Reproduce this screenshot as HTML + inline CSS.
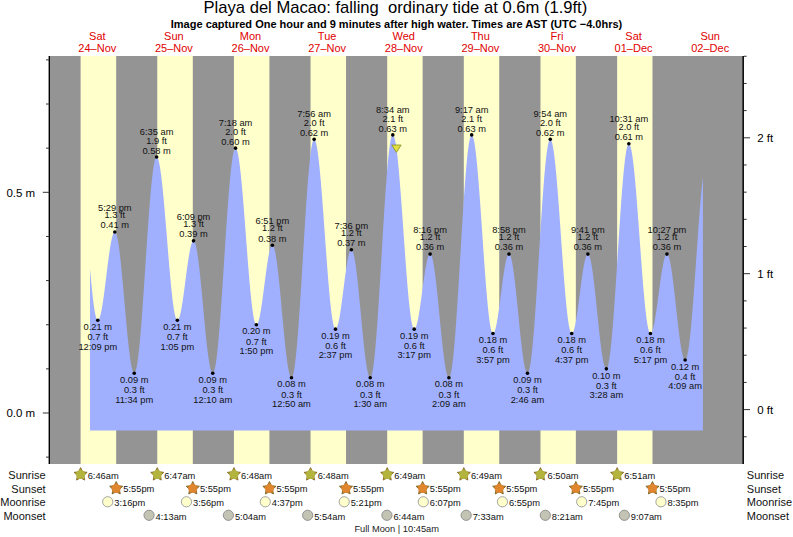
<!DOCTYPE html>
<html><head><meta charset="utf-8"><style>
html,body{margin:0;padding:0;background:#fff;}
svg{display:block;}
text{font-family:"Liberation Sans",Arial,sans-serif;fill:#111;}
.title{font-size:16.6px;text-anchor:middle;fill:#000;}
.sub{font-size:11px;font-weight:bold;text-anchor:middle;fill:#000;}
.day{font-size:11px;text-anchor:middle;fill:#e00000;}
.ax{font-size:11.5px;fill:#000;}
.lab{font-size:9.3px;text-anchor:middle;fill:#111;}
.row{font-size:11px;fill:#111;}
.ev{font-size:9.3px;fill:#111;}
.fm{font-size:9.3px;text-anchor:middle;fill:#222;}
</style></head><body>
<svg width="793" height="537" viewBox="0 0 793 537">
<rect width="793" height="537" fill="#fff"/>
<rect x="50" y="56" width="692" height="408" fill="#949494"/>
<rect x="80.60" y="56" width="35.59" height="408" fill="#ffffcc"/>
<rect x="157.26" y="56" width="35.54" height="408" fill="#ffffcc"/>
<rect x="233.93" y="56" width="35.49" height="408" fill="#ffffcc"/>
<rect x="310.54" y="56" width="35.49" height="408" fill="#ffffcc"/>
<rect x="387.20" y="56" width="35.43" height="408" fill="#ffffcc"/>
<rect x="463.81" y="56" width="35.43" height="408" fill="#ffffcc"/>
<rect x="540.47" y="56" width="35.38" height="408" fill="#ffffcc"/>
<rect x="617.14" y="56" width="35.33" height="408" fill="#ffffcc"/>
<path d="M90.02,430.5 L90.02,268.17 L90.53,274.07 L91.04,279.76 L91.55,285.19 L92.06,290.33 L92.57,295.16 L93.08,299.63 L93.59,303.72 L94.10,307.41 L94.61,310.67 L95.12,313.49 L95.63,315.83 L96.15,317.69 L96.66,319.07 L97.17,319.93 L97.68,320.29 L98.19,320.18 L98.70,319.68 L99.21,318.79 L99.72,317.52 L100.23,315.88 L100.74,313.89 L101.25,311.57 L101.76,308.93 L102.27,306.00 L102.78,302.81 L103.30,299.38 L103.81,295.74 L104.32,291.93 L104.83,287.98 L105.34,283.93 L105.85,279.80 L106.36,275.65 L106.87,271.49 L107.38,267.38 L107.89,263.35 L108.40,259.43 L108.91,255.66 L109.42,252.08 L109.94,248.70 L110.45,245.57 L110.96,242.71 L111.47,240.15 L111.98,237.91 L112.49,236.01 L113.00,234.46 L113.51,233.29 L114.02,232.49 L114.53,232.08 L115.04,232.08 L115.55,232.54 L116.06,233.48 L116.57,234.89 L117.09,236.76 L117.60,239.09 L118.11,241.85 L118.62,245.02 L119.13,248.58 L119.64,252.52 L120.15,256.79 L120.66,261.38 L121.17,266.26 L121.68,271.38 L122.19,276.71 L122.70,282.22 L123.21,287.87 L123.72,293.62 L124.24,299.43 L124.75,305.26 L125.26,311.08 L125.77,316.84 L126.28,322.50 L126.79,328.03 L127.30,333.38 L127.81,338.52 L128.32,343.42 L128.83,348.04 L129.34,352.35 L129.85,356.32 L130.36,359.93 L130.88,363.14 L131.39,365.94 L131.90,368.31 L132.41,370.24 L132.92,371.70 L133.43,372.69 L133.94,373.20 L134.45,373.22 L134.96,372.70 L135.47,371.63 L135.98,370.01 L136.49,367.86 L137.00,365.17 L137.51,361.98 L138.03,358.28 L138.54,354.11 L139.05,349.49 L139.56,344.43 L140.07,338.96 L140.58,333.11 L141.09,326.92 L141.60,320.41 L142.11,313.61 L142.62,306.57 L143.13,299.32 L143.64,291.88 L144.15,284.32 L144.66,276.65 L145.18,268.92 L145.69,261.18 L146.20,253.45 L146.71,245.79 L147.22,238.22 L147.73,230.79 L148.24,223.54 L148.75,216.50 L149.26,209.71 L149.77,203.21 L150.28,197.02 L150.79,191.18 L151.30,185.73 L151.82,180.67 L152.33,176.06 L152.84,171.90 L153.35,168.21 L153.86,165.03 L154.37,162.36 L154.88,160.21 L155.39,158.60 L155.90,157.54 L156.41,157.04 L156.92,157.07 L157.43,157.60 L157.94,158.61 L158.45,160.10 L158.97,162.06 L159.48,164.48 L159.99,167.34 L160.50,170.63 L161.01,174.33 L161.52,178.40 L162.03,182.84 L162.54,187.62 L163.05,192.69 L163.56,198.05 L164.07,203.64 L164.58,209.44 L165.09,215.42 L165.60,221.54 L166.12,227.76 L166.63,234.04 L167.14,240.36 L167.65,246.66 L168.16,252.91 L168.67,259.08 L169.18,265.13 L169.69,271.02 L170.20,276.71 L170.71,282.18 L171.22,287.39 L171.73,292.30 L172.24,296.90 L172.76,301.15 L173.27,305.02 L173.78,308.50 L174.29,311.55 L174.80,314.18 L175.31,316.35 L175.82,318.06 L176.33,319.29 L176.84,320.04 L177.35,320.31 L177.86,320.13 L178.37,319.56 L178.88,318.61 L179.39,317.28 L179.91,315.60 L180.42,313.57 L180.93,311.21 L181.44,308.55 L181.95,305.62 L182.46,302.45 L182.97,299.05 L183.48,295.48 L183.99,291.76 L184.50,287.93 L185.01,284.02 L185.52,280.09 L186.03,276.16 L186.55,272.27 L187.06,268.46 L187.57,264.77 L188.08,261.24 L188.59,257.90 L189.10,254.78 L189.61,251.91 L190.12,249.33 L190.63,247.06 L191.14,245.11 L191.65,243.51 L192.16,242.28 L192.67,241.42 L193.18,240.95 L193.70,240.87 L194.21,241.24 L194.72,242.06 L195.23,243.34 L195.74,245.06 L196.25,247.22 L196.76,249.79 L197.27,252.76 L197.78,256.11 L198.29,259.82 L198.80,263.86 L199.31,268.19 L199.82,272.80 L200.33,277.65 L200.85,282.70 L201.36,287.92 L201.87,293.28 L202.38,298.73 L202.89,304.24 L203.40,309.77 L203.91,315.28 L204.42,320.74 L204.93,326.09 L205.44,331.32 L205.95,336.38 L206.46,341.23 L206.97,345.84 L207.49,350.18 L208.00,354.23 L208.51,357.94 L209.02,361.30 L209.53,364.28 L210.04,366.86 L210.55,369.02 L211.06,370.75 L211.57,372.04 L212.08,372.88 L212.59,373.25 L213.10,373.14 L213.61,372.48 L214.12,371.26 L214.64,369.50 L215.15,367.19 L215.66,364.35 L216.17,361.01 L216.68,357.16 L217.19,352.83 L217.70,348.05 L218.21,342.84 L218.72,337.21 L219.23,331.21 L219.74,324.86 L220.25,318.18 L220.76,311.23 L221.27,304.02 L221.79,296.60 L222.30,289.00 L222.81,281.26 L223.32,273.41 L223.83,265.51 L224.34,257.58 L224.85,249.66 L225.36,241.80 L225.87,234.04 L226.38,226.41 L226.89,218.94 L227.40,211.69 L227.91,204.68 L228.43,197.94 L228.94,191.52 L229.45,185.44 L229.96,179.74 L230.47,174.43 L230.98,169.56 L231.49,165.14 L232.00,161.19 L232.51,157.73 L233.02,154.79 L233.53,152.37 L234.04,150.50 L234.55,149.16 L235.06,148.38 L235.58,148.16 L236.09,148.48 L236.60,149.31 L237.11,150.67 L237.62,152.52 L238.13,154.88 L238.64,157.72 L239.15,161.02 L239.66,164.77 L240.17,168.95 L240.68,173.52 L241.19,178.46 L241.70,183.75 L242.21,189.35 L242.73,195.23 L243.24,201.35 L243.75,207.68 L244.26,214.18 L244.77,220.82 L245.28,227.54 L245.79,234.32 L246.30,241.11 L246.81,247.87 L247.32,254.56 L247.83,261.15 L248.34,267.59 L248.85,273.85 L249.37,279.88 L249.88,285.66 L250.39,291.15 L250.90,296.31 L251.41,301.12 L251.92,305.55 L252.43,309.57 L252.94,313.15 L253.45,316.28 L253.96,318.94 L254.47,321.11 L254.98,322.78 L255.49,323.94 L256.00,324.58 L256.52,324.71 L257.03,324.40 L257.54,323.70 L258.05,322.61 L258.56,321.14 L259.07,319.31 L259.58,317.13 L260.09,314.64 L260.60,311.84 L261.11,308.78 L261.62,305.48 L262.13,301.97 L262.64,298.29 L263.16,294.48 L263.67,290.57 L264.18,286.61 L264.69,282.63 L265.20,278.68 L265.71,274.79 L266.22,271.00 L266.73,267.35 L267.24,263.88 L267.75,260.62 L268.26,257.60 L268.77,254.86 L269.28,252.42 L269.79,250.31 L270.31,248.55 L270.82,247.15 L271.33,246.13 L271.84,245.50 L272.35,245.27 L272.86,245.46 L273.37,246.12 L273.88,247.25 L274.39,248.82 L274.90,250.84 L275.41,253.28 L275.92,256.13 L276.43,259.38 L276.94,262.99 L277.46,266.95 L277.97,271.21 L278.48,275.77 L278.99,280.57 L279.50,285.59 L280.01,290.80 L280.52,296.15 L281.03,301.61 L281.54,307.14 L282.05,312.69 L282.56,318.25 L283.07,323.75 L283.58,329.16 L284.10,334.46 L284.61,339.58 L285.12,344.52 L285.63,349.21 L286.14,353.65 L286.65,357.78 L287.16,361.59 L287.67,365.04 L288.18,368.12 L288.69,370.80 L289.20,373.06 L289.71,374.88 L290.22,376.26 L290.73,377.18 L291.25,377.63 L291.76,377.61 L292.27,377.00 L292.78,375.80 L293.29,374.00 L293.80,371.64 L294.31,368.70 L294.82,365.21 L295.33,361.19 L295.84,356.65 L296.35,351.62 L296.86,346.13 L297.37,340.20 L297.88,333.85 L298.40,327.13 L298.91,320.07 L299.42,312.69 L299.93,305.05 L300.44,297.17 L300.95,289.10 L301.46,280.88 L301.97,272.54 L302.48,264.13 L302.99,255.70 L303.50,247.28 L304.01,238.91 L304.52,230.65 L305.04,222.52 L305.55,214.57 L306.06,206.85 L306.57,199.38 L307.08,192.21 L307.59,185.37 L308.10,178.90 L308.61,172.82 L309.12,167.18 L309.63,161.99 L310.14,157.29 L310.65,153.09 L311.16,149.42 L311.67,146.30 L312.19,143.74 L312.70,141.76 L313.21,140.36 L313.72,139.55 L314.23,139.34 L314.74,139.68 L315.25,140.57 L315.76,141.98 L316.27,143.91 L316.78,146.35 L317.29,149.29 L317.80,152.71 L318.31,156.59 L318.82,160.91 L319.34,165.65 L319.85,170.77 L320.36,176.25 L320.87,182.06 L321.38,188.16 L321.89,194.53 L322.40,201.12 L322.91,207.89 L323.42,214.82 L323.93,221.85 L324.44,228.96 L324.95,236.09 L325.46,243.22 L325.98,250.29 L326.49,257.27 L327.00,264.12 L327.51,270.81 L328.02,277.28 L328.53,283.52 L329.04,289.47 L329.55,295.11 L330.06,300.41 L330.57,305.34 L331.08,309.86 L331.59,313.95 L332.10,317.60 L332.61,320.77 L333.13,323.45 L333.64,325.63 L334.15,327.29 L334.66,328.43 L335.17,329.03 L335.68,329.11 L336.19,328.75 L336.70,328.00 L337.21,326.85 L337.72,325.33 L338.23,323.44 L338.74,321.20 L339.25,318.64 L339.77,315.78 L340.28,312.66 L340.79,309.30 L341.30,305.73 L341.81,302.00 L342.32,298.14 L342.83,294.20 L343.34,290.20 L343.85,286.20 L344.36,282.23 L344.87,278.33 L345.38,274.54 L345.89,270.91 L346.40,267.46 L346.92,264.24 L347.43,261.27 L347.94,258.59 L348.45,256.22 L348.96,254.19 L349.47,252.52 L349.98,251.22 L350.49,250.31 L351.00,249.80 L351.51,249.69 L352.02,250.03 L352.53,250.83 L353.04,252.09 L353.55,253.79 L354.07,255.93 L354.58,258.49 L355.09,261.44 L355.60,264.78 L356.11,268.47 L356.62,272.49 L357.13,276.80 L357.64,281.39 L358.15,286.21 L358.66,291.23 L359.17,296.41 L359.68,301.71 L360.19,307.11 L360.71,312.55 L361.22,318.00 L361.73,323.42 L362.24,328.76 L362.75,334.00 L363.26,339.09 L363.77,344.00 L364.28,348.69 L364.79,353.12 L365.30,357.27 L365.81,361.10 L366.32,364.58 L366.83,367.70 L367.34,370.43 L367.86,372.74 L368.37,374.63 L368.88,376.07 L369.39,377.06 L369.90,377.59 L370.41,377.65 L370.92,377.13 L371.43,375.99 L371.94,374.25 L372.45,371.91 L372.96,368.99 L373.47,365.50 L373.98,361.46 L374.49,356.88 L375.01,351.80 L375.52,346.23 L376.03,340.21 L376.54,333.76 L377.05,326.92 L377.56,319.73 L378.07,312.21 L378.58,304.41 L379.09,296.37 L379.60,288.12 L380.11,279.72 L380.62,271.20 L381.13,262.60 L381.65,253.96 L382.16,245.35 L382.67,236.78 L383.18,228.32 L383.69,219.99 L384.20,211.85 L384.71,203.94 L385.22,196.29 L385.73,188.94 L386.24,181.93 L386.75,175.30 L387.26,169.08 L387.77,163.30 L388.28,157.99 L388.80,153.18 L389.31,148.89 L389.82,145.15 L390.33,141.96 L390.84,139.35 L391.35,137.34 L391.86,135.93 L392.37,135.12 L392.88,134.93 L393.39,135.30 L393.90,136.22 L394.41,137.67 L394.92,139.65 L395.43,142.14 L395.95,145.14 L396.46,148.63 L396.97,152.58 L397.48,156.98 L397.99,161.80 L398.50,167.01 L399.01,172.59 L399.52,178.49 L400.03,184.70 L400.54,191.17 L401.05,197.87 L401.56,204.77 L402.07,211.81 L402.59,218.97 L403.10,226.20 L403.61,233.46 L404.12,240.72 L404.63,247.93 L405.14,255.04 L405.65,262.03 L406.16,268.86 L406.67,275.47 L407.18,281.84 L407.69,287.93 L408.20,293.71 L408.71,299.15 L409.22,304.21 L409.74,308.86 L410.25,313.09 L410.76,316.86 L411.27,320.15 L411.78,322.96 L412.29,325.25 L412.80,327.02 L413.31,328.26 L413.82,328.96 L414.33,329.13 L414.84,328.86 L415.35,328.21 L415.86,327.19 L416.38,325.80 L416.89,324.07 L417.40,322.01 L417.91,319.65 L418.42,316.99 L418.93,314.08 L419.44,310.94 L419.95,307.60 L420.46,304.11 L420.97,300.48 L421.48,296.76 L421.99,292.99 L422.50,289.21 L423.01,285.45 L423.53,281.76 L424.04,278.16 L424.55,274.70 L425.06,271.42 L425.57,268.34 L426.08,265.49 L426.59,262.91 L427.10,260.63 L427.61,258.65 L428.12,257.02 L428.63,255.73 L429.14,254.81 L429.65,254.26 L430.16,254.10 L430.68,254.35 L431.19,255.05 L431.70,256.20 L432.21,257.78 L432.72,259.79 L433.23,262.20 L433.74,265.01 L434.25,268.19 L434.76,271.71 L435.27,275.56 L435.78,279.70 L436.29,284.11 L436.80,288.75 L437.32,293.58 L437.83,298.58 L438.34,303.71 L438.85,308.92 L439.36,314.19 L439.87,319.46 L440.38,324.72 L440.89,329.90 L441.40,334.99 L441.91,339.93 L442.42,344.70 L442.93,349.26 L443.44,353.58 L443.95,357.62 L444.47,361.36 L444.98,364.76 L445.49,367.81 L446.00,370.48 L446.51,372.76 L447.02,374.61 L447.53,376.04 L448.04,377.03 L448.55,377.57 L449.06,377.66 L449.57,377.19 L450.08,376.11 L450.59,374.44 L451.10,372.18 L451.62,369.35 L452.13,365.95 L452.64,362.01 L453.15,357.55 L453.66,352.59 L454.17,347.14 L454.68,341.25 L455.19,334.93 L455.70,328.23 L456.21,321.16 L456.72,313.78 L457.23,306.11 L457.74,298.19 L458.26,290.07 L458.77,281.77 L459.28,273.35 L459.79,264.85 L460.30,256.30 L460.81,247.76 L461.32,239.25 L461.83,230.83 L462.34,222.54 L462.85,214.41 L463.36,206.50 L463.87,198.83 L464.38,191.44 L464.89,184.38 L465.41,177.67 L465.92,171.36 L466.43,165.46 L466.94,160.02 L467.45,155.05 L467.96,150.59 L468.47,146.65 L468.98,143.26 L469.49,140.43 L470.00,138.17 L470.51,136.50 L471.02,135.42 L471.53,134.94 L472.04,135.06 L472.56,135.74 L473.07,136.98 L473.58,138.77 L474.09,141.11 L474.60,143.98 L475.11,147.35 L475.62,151.22 L476.13,155.57 L476.64,160.36 L477.15,165.57 L477.66,171.17 L478.17,177.13 L478.68,183.41 L479.20,189.98 L479.71,196.80 L480.22,203.84 L480.73,211.05 L481.24,218.39 L481.75,225.82 L482.26,233.30 L482.77,240.78 L483.28,248.23 L483.79,255.59 L484.30,262.84 L484.81,269.92 L485.32,276.80 L485.83,283.44 L486.35,289.80 L486.86,295.84 L487.37,301.53 L487.88,306.84 L488.39,311.74 L488.90,316.20 L489.41,320.19 L489.92,323.69 L490.43,326.69 L490.94,329.16 L491.45,331.09 L491.96,332.47 L492.47,333.29 L492.99,333.55 L493.50,333.33 L494.01,332.72 L494.52,331.72 L495.03,330.33 L495.54,328.59 L496.05,326.49 L496.56,324.06 L497.07,321.34 L497.58,318.33 L498.09,315.08 L498.60,311.62 L499.11,307.97 L499.62,304.19 L500.14,300.30 L500.65,296.35 L501.16,292.37 L501.67,288.41 L502.18,284.50 L502.69,280.68 L503.20,277.00 L503.71,273.48 L504.22,270.17 L504.73,267.10 L505.24,264.29 L505.75,261.78 L506.26,259.59 L506.77,257.75 L507.29,256.26 L507.80,255.16 L508.31,254.44 L508.82,254.12 L509.33,254.20 L509.84,254.73 L510.35,255.70 L510.86,257.11 L511.37,258.95 L511.88,261.19 L512.39,263.83 L512.90,266.84 L513.41,270.20 L513.93,273.89 L514.44,277.88 L514.95,282.14 L515.46,286.63 L515.97,291.33 L516.48,296.19 L516.99,301.19 L517.50,306.28 L518.01,311.43 L518.52,316.59 L519.03,321.73 L519.54,326.81 L520.05,331.79 L520.56,336.64 L521.08,341.31 L521.59,345.78 L522.10,350.00 L522.61,353.96 L523.12,357.61 L523.63,360.93 L524.14,363.89 L524.65,366.48 L525.16,368.68 L525.67,370.46 L526.18,371.81 L526.69,372.73 L527.20,373.20 L527.71,373.22 L528.23,372.67 L528.74,371.55 L529.25,369.86 L529.76,367.60 L530.27,364.79 L530.78,361.44 L531.29,357.57 L531.80,353.20 L532.31,348.35 L532.82,343.04 L533.33,337.30 L533.84,331.15 L534.35,324.64 L534.87,317.79 L535.38,310.63 L535.89,303.20 L536.40,295.54 L536.91,287.68 L537.42,279.67 L537.93,271.54 L538.44,263.34 L538.95,255.10 L539.46,246.87 L539.97,238.68 L540.48,230.59 L540.99,222.62 L541.50,214.81 L542.02,207.22 L542.53,199.86 L543.04,192.79 L543.55,186.03 L544.06,179.62 L544.57,173.59 L545.08,167.97 L545.59,162.79 L546.10,158.08 L546.61,153.85 L547.12,150.13 L547.63,146.94 L548.14,144.29 L548.65,142.19 L549.17,140.67 L549.68,139.71 L550.19,139.34 L550.70,139.53 L551.21,140.27 L551.72,141.54 L552.23,143.34 L552.74,145.67 L553.25,148.50 L553.76,151.83 L554.27,155.63 L554.78,159.88 L555.29,164.56 L555.81,169.65 L556.32,175.10 L556.83,180.90 L557.34,187.01 L557.85,193.40 L558.36,200.03 L558.87,206.86 L559.38,213.86 L559.89,220.99 L560.40,228.20 L560.91,235.46 L561.42,242.72 L561.93,249.95 L562.44,257.10 L562.96,264.14 L563.47,271.02 L563.98,277.70 L564.49,284.16 L565.00,290.35 L565.51,296.24 L566.02,301.79 L566.53,306.98 L567.04,311.77 L567.55,316.14 L568.06,320.07 L568.57,323.52 L569.08,326.49 L569.60,328.96 L570.11,330.90 L570.62,332.32 L571.13,333.20 L571.64,333.54 L572.15,333.40 L572.66,332.86 L573.17,331.94 L573.68,330.65 L574.19,328.99 L574.70,326.99 L575.21,324.66 L575.72,322.03 L576.23,319.12 L576.75,315.96 L577.26,312.58 L577.77,309.02 L578.28,305.31 L578.79,301.49 L579.30,297.59 L579.81,293.66 L580.32,289.72 L580.83,285.83 L581.34,282.02 L581.85,278.32 L582.36,274.77 L582.87,271.41 L583.38,268.27 L583.90,265.39 L584.41,262.78 L584.92,260.48 L585.43,258.50 L585.94,256.87 L586.45,255.61 L586.96,254.72 L587.47,254.22 L587.98,254.11 L588.49,254.41 L589.00,255.15 L589.51,256.31 L590.02,257.89 L590.54,259.88 L591.05,262.25 L591.56,264.99 L592.07,268.09 L592.58,271.51 L593.09,275.24 L593.60,279.24 L594.11,283.48 L594.62,287.93 L595.13,292.56 L595.64,297.34 L596.15,302.22 L596.66,307.17 L597.17,312.15 L597.69,317.13 L598.20,322.07 L598.71,326.92 L599.22,331.66 L599.73,336.25 L600.24,340.65 L600.75,344.83 L601.26,348.75 L601.77,352.40 L602.28,355.74 L602.79,358.74 L603.30,361.39 L603.81,363.66 L604.32,365.53 L604.84,367.00 L605.35,368.05 L605.86,368.67 L606.37,368.86 L606.88,368.54 L607.39,367.65 L607.90,366.19 L608.41,364.17 L608.92,361.61 L609.43,358.51 L609.94,354.89 L610.45,350.77 L610.96,346.17 L611.48,341.11 L611.99,335.63 L612.50,329.74 L613.01,323.47 L613.52,316.87 L614.03,309.96 L614.54,302.77 L615.05,295.35 L615.56,287.73 L616.07,279.95 L616.58,272.05 L617.09,264.07 L617.60,256.05 L618.11,248.03 L618.63,240.06 L619.14,232.17 L619.65,224.40 L620.16,216.79 L620.67,209.38 L621.18,202.21 L621.69,195.32 L622.20,188.73 L622.71,182.49 L623.22,176.62 L623.73,171.16 L624.24,166.14 L624.75,161.56 L625.26,157.48 L625.78,153.89 L626.29,150.82 L626.80,148.29 L627.31,146.31 L627.82,144.89 L628.33,144.03 L628.84,143.75 L629.35,144.01 L629.86,144.79 L630.37,146.09 L630.88,147.90 L631.39,150.22 L631.90,153.02 L632.42,156.29 L632.93,160.02 L633.44,164.18 L633.95,168.75 L634.46,173.70 L634.97,179.02 L635.48,184.66 L635.99,190.60 L636.50,196.81 L637.01,203.25 L637.52,209.88 L638.03,216.67 L638.54,223.58 L639.05,230.58 L639.57,237.62 L640.08,244.66 L640.59,251.68 L641.10,258.62 L641.61,265.45 L642.12,272.13 L642.63,278.63 L643.14,284.91 L643.65,290.93 L644.16,296.66 L644.67,302.08 L645.18,307.14 L645.69,311.83 L646.21,316.11 L646.72,319.96 L647.23,323.37 L647.74,326.31 L648.25,328.77 L648.76,330.73 L649.27,332.18 L649.78,333.11 L650.29,333.53 L650.80,333.45 L651.31,333.00 L651.82,332.18 L652.33,330.99 L652.84,329.45 L653.36,327.58 L653.87,325.38 L654.38,322.89 L654.89,320.12 L655.40,317.11 L655.91,313.87 L656.42,310.44 L656.93,306.86 L657.44,303.15 L657.95,299.36 L658.46,295.51 L658.97,291.65 L659.48,287.81 L659.99,284.02 L660.51,280.33 L661.02,276.76 L661.53,273.36 L662.04,270.15 L662.55,267.16 L663.06,264.43 L663.57,261.97 L664.08,259.81 L664.59,257.98 L665.10,256.49 L665.61,255.34 L666.12,254.57 L666.63,254.16 L667.15,254.13 L667.66,254.51 L668.17,255.29 L668.68,256.48 L669.19,258.06 L669.70,260.02 L670.21,262.35 L670.72,265.03 L671.23,268.03 L671.74,271.33 L672.25,274.92 L672.76,278.75 L673.27,282.80 L673.78,287.04 L674.30,291.44 L674.81,295.96 L675.32,300.56 L675.83,305.22 L676.34,309.88 L676.85,314.53 L677.36,319.12 L677.87,323.62 L678.38,327.98 L678.89,332.19 L679.40,336.20 L679.91,339.98 L680.42,343.51 L680.93,346.75 L681.45,349.69 L681.96,352.29 L682.47,354.54 L682.98,356.43 L683.49,357.93 L684.00,359.03 L684.51,359.73 L685.02,360.02 L685.53,359.87 L686.04,359.19 L686.55,357.99 L687.06,356.27 L687.57,354.05 L688.09,351.34 L688.60,348.14 L689.11,344.48 L689.62,340.37 L690.13,335.84 L690.64,330.91 L691.15,325.61 L691.66,319.95 L692.17,313.98 L692.68,307.73 L693.19,301.21 L693.70,294.48 L694.21,287.56 L694.72,280.49 L695.24,273.30 L695.75,266.04 L696.26,258.74 L696.77,251.44 L697.28,244.17 L697.79,236.98 L698.30,229.90 L698.81,222.97 L699.32,216.22 L699.83,209.69 L700.34,203.42 L700.85,197.43 L701.36,191.76 L701.87,186.43 L702.39,181.47 L702.90,176.92 L702.90,430.5 Z" fill="#a0b0ff"/>
<text x="97.31" y="40.3" class="day">Sat</text>
<text x="97.31" y="51.8" class="day">24–Nov</text>
<text x="173.91" y="40.3" class="day">Sun</text>
<text x="173.91" y="51.8" class="day">25–Nov</text>
<text x="250.53" y="40.3" class="day">Mon</text>
<text x="250.53" y="51.8" class="day">26–Nov</text>
<text x="327.13" y="40.3" class="day">Tue</text>
<text x="327.13" y="51.8" class="day">27–Nov</text>
<text x="403.75" y="40.3" class="day">Wed</text>
<text x="403.75" y="51.8" class="day">28–Nov</text>
<text x="480.36" y="40.3" class="day">Thu</text>
<text x="480.36" y="51.8" class="day">29–Nov</text>
<text x="556.96" y="40.3" class="day">Fri</text>
<text x="556.96" y="51.8" class="day">30–Nov</text>
<text x="633.58" y="40.3" class="day">Sat</text>
<text x="633.58" y="51.8" class="day">01–Dec</text>
<text x="710.18" y="40.3" class="day">Sun</text>
<text x="710.18" y="51.8" class="day">02–Dec</text>
<line x1="49.3" y1="56" x2="49.3" y2="464" stroke="#000" stroke-width="1.4"/>
<line x1="743.1" y1="56" x2="743.1" y2="464" stroke="#111" stroke-width="1.8"/>
<line x1="46" y1="457.14" x2="49" y2="457.14" stroke="#333" stroke-width="1"/>
<line x1="42.8" y1="413.00" x2="49" y2="413.00" stroke="#333" stroke-width="1"/>
<line x1="46" y1="368.86" x2="49" y2="368.86" stroke="#333" stroke-width="1"/>
<line x1="46" y1="324.72" x2="49" y2="324.72" stroke="#333" stroke-width="1"/>
<line x1="46" y1="280.58" x2="49" y2="280.58" stroke="#333" stroke-width="1"/>
<line x1="46" y1="236.44" x2="49" y2="236.44" stroke="#333" stroke-width="1"/>
<line x1="42.8" y1="192.30" x2="49" y2="192.30" stroke="#333" stroke-width="1"/>
<line x1="46" y1="148.16" x2="49" y2="148.16" stroke="#333" stroke-width="1"/>
<line x1="46" y1="104.02" x2="49" y2="104.02" stroke="#333" stroke-width="1"/>
<line x1="46" y1="59.88" x2="49" y2="59.88" stroke="#333" stroke-width="1"/>
<line x1="744" y1="436.78" x2="746.6" y2="436.78" stroke="#333" stroke-width="1"/>
<line x1="744" y1="409.60" x2="750" y2="409.60" stroke="#333" stroke-width="1"/>
<line x1="744" y1="382.42" x2="746.6" y2="382.42" stroke="#333" stroke-width="1"/>
<line x1="744" y1="355.24" x2="746.6" y2="355.24" stroke="#333" stroke-width="1"/>
<line x1="744" y1="328.06" x2="746.6" y2="328.06" stroke="#333" stroke-width="1"/>
<line x1="744" y1="300.88" x2="746.6" y2="300.88" stroke="#333" stroke-width="1"/>
<line x1="744" y1="273.70" x2="750" y2="273.70" stroke="#333" stroke-width="1"/>
<line x1="744" y1="246.52" x2="746.6" y2="246.52" stroke="#333" stroke-width="1"/>
<line x1="744" y1="219.34" x2="746.6" y2="219.34" stroke="#333" stroke-width="1"/>
<line x1="744" y1="192.16" x2="746.6" y2="192.16" stroke="#333" stroke-width="1"/>
<line x1="744" y1="164.98" x2="746.6" y2="164.98" stroke="#333" stroke-width="1"/>
<line x1="744" y1="137.80" x2="750" y2="137.80" stroke="#333" stroke-width="1"/>
<line x1="744" y1="110.62" x2="746.6" y2="110.62" stroke="#333" stroke-width="1"/>
<line x1="744" y1="83.44" x2="746.6" y2="83.44" stroke="#333" stroke-width="1"/>
<line x1="744" y1="56.26" x2="746.6" y2="56.26" stroke="#333" stroke-width="1"/>
<text x="35.2" y="196.6" class="ax" text-anchor="end">0.5 m</text>
<text x="35.2" y="417" class="ax" text-anchor="end">0.0 m</text>
<text x="757.2" y="141.90" class="ax">2 ft</text>
<text x="757.2" y="277.80" class="ax">1 ft</text>
<text x="757.2" y="413.70" class="ax">0 ft</text>
<circle cx="97.78" cy="320.31" r="1.8" fill="#000"/>
<text x="97.78" y="330.01" class="lab">0.21 m</text>
<text x="97.78" y="340.21" class="lab">0.7 ft</text>
<text x="97.78" y="349.61" class="lab">12:09 pm</text>
<circle cx="114.81" cy="232.03" r="1.8" fill="#000"/>
<text x="114.81" y="211.03" class="lab">5:29 pm</text>
<text x="114.81" y="218.23" class="lab">1.3 ft</text>
<text x="114.81" y="228.33" class="lab">0.41 m</text>
<circle cx="134.23" cy="373.27" r="1.8" fill="#000"/>
<text x="134.23" y="382.97" class="lab">0.09 m</text>
<text x="134.23" y="393.17" class="lab">0.3 ft</text>
<text x="134.23" y="402.57" class="lab">11:34 pm</text>
<circle cx="156.62" cy="156.99" r="1.8" fill="#000"/>
<text x="156.62" y="134.79" class="lab">6:35 am</text>
<text x="156.62" y="143.59" class="lab">1.9 ft</text>
<text x="156.62" y="153.59" class="lab">0.58 m</text>
<circle cx="177.37" cy="320.31" r="1.8" fill="#000"/>
<text x="177.37" y="330.01" class="lab">0.21 m</text>
<text x="177.37" y="340.21" class="lab">0.7 ft</text>
<text x="177.37" y="349.61" class="lab">1:05 pm</text>
<circle cx="193.55" cy="240.85" r="1.8" fill="#000"/>
<text x="193.55" y="219.85" class="lab">6:09 pm</text>
<text x="193.55" y="227.05" class="lab">1.3 ft</text>
<text x="193.55" y="237.15" class="lab">0.39 m</text>
<circle cx="212.75" cy="373.27" r="1.8" fill="#000"/>
<text x="212.75" y="382.97" class="lab">0.09 m</text>
<text x="212.75" y="393.17" class="lab">0.3 ft</text>
<text x="212.75" y="402.57" class="lab">12:10 am</text>
<circle cx="235.52" cy="148.16" r="1.8" fill="#000"/>
<text x="235.52" y="125.96" class="lab">7:18 am</text>
<text x="235.52" y="134.76" class="lab">2.0 ft</text>
<text x="235.52" y="144.76" class="lab">0.60 m</text>
<circle cx="256.38" cy="324.72" r="1.8" fill="#000"/>
<text x="256.38" y="334.42" class="lab">0.20 m</text>
<text x="256.38" y="344.62" class="lab">0.7 ft</text>
<text x="256.38" y="354.02" class="lab">1:50 pm</text>
<circle cx="272.39" cy="245.27" r="1.8" fill="#000"/>
<text x="272.39" y="224.27" class="lab">6:51 pm</text>
<text x="272.39" y="231.47" class="lab">1.2 ft</text>
<text x="272.39" y="241.57" class="lab">0.38 m</text>
<circle cx="291.49" cy="377.69" r="1.8" fill="#000"/>
<text x="291.49" y="387.39" class="lab">0.08 m</text>
<text x="291.49" y="397.59" class="lab">0.3 ft</text>
<text x="291.49" y="406.99" class="lab">12:50 am</text>
<circle cx="314.15" cy="139.33" r="1.8" fill="#000"/>
<text x="314.15" y="117.13" class="lab">7:56 am</text>
<text x="314.15" y="125.93" class="lab">2.0 ft</text>
<text x="314.15" y="135.93" class="lab">0.62 m</text>
<circle cx="335.49" cy="329.13" r="1.8" fill="#000"/>
<text x="335.49" y="338.83" class="lab">0.19 m</text>
<text x="335.49" y="349.03" class="lab">0.6 ft</text>
<text x="335.49" y="358.43" class="lab">2:37 pm</text>
<circle cx="351.39" cy="249.68" r="1.8" fill="#000"/>
<text x="351.39" y="228.68" class="lab">7:36 pm</text>
<text x="351.39" y="235.88" class="lab">1.2 ft</text>
<text x="351.39" y="245.98" class="lab">0.37 m</text>
<circle cx="370.23" cy="377.69" r="1.8" fill="#000"/>
<text x="370.23" y="387.39" class="lab">0.08 m</text>
<text x="370.23" y="397.59" class="lab">0.3 ft</text>
<text x="370.23" y="406.99" class="lab">1:30 am</text>
<circle cx="392.79" cy="134.92" r="1.8" fill="#000"/>
<text x="392.79" y="112.72" class="lab">8:34 am</text>
<text x="392.79" y="121.52" class="lab">2.1 ft</text>
<text x="392.79" y="131.52" class="lab">0.63 m</text>
<circle cx="414.23" cy="329.13" r="1.8" fill="#000"/>
<text x="414.23" y="338.83" class="lab">0.19 m</text>
<text x="414.23" y="349.03" class="lab">0.6 ft</text>
<text x="414.23" y="358.43" class="lab">3:17 pm</text>
<circle cx="430.13" cy="254.10" r="1.8" fill="#000"/>
<text x="430.13" y="233.10" class="lab">8:16 pm</text>
<text x="430.13" y="240.30" class="lab">1.2 ft</text>
<text x="430.13" y="250.40" class="lab">0.36 m</text>
<circle cx="448.91" cy="377.69" r="1.8" fill="#000"/>
<text x="448.91" y="387.39" class="lab">0.08 m</text>
<text x="448.91" y="397.59" class="lab">0.3 ft</text>
<text x="448.91" y="406.99" class="lab">2:09 am</text>
<circle cx="471.68" cy="134.92" r="1.8" fill="#000"/>
<text x="471.68" y="112.72" class="lab">9:17 am</text>
<text x="471.68" y="121.52" class="lab">2.1 ft</text>
<text x="471.68" y="131.52" class="lab">0.63 m</text>
<circle cx="492.96" cy="333.55" r="1.8" fill="#000"/>
<text x="492.96" y="343.25" class="lab">0.18 m</text>
<text x="492.96" y="353.45" class="lab">0.6 ft</text>
<text x="492.96" y="362.85" class="lab">3:57 pm</text>
<circle cx="508.98" cy="254.10" r="1.8" fill="#000"/>
<text x="508.98" y="233.10" class="lab">8:58 pm</text>
<text x="508.98" y="240.30" class="lab">1.2 ft</text>
<text x="508.98" y="250.40" class="lab">0.36 m</text>
<circle cx="527.49" cy="373.27" r="1.8" fill="#000"/>
<text x="527.49" y="382.97" class="lab">0.09 m</text>
<text x="527.49" y="393.17" class="lab">0.3 ft</text>
<text x="527.49" y="402.57" class="lab">2:46 am</text>
<circle cx="550.26" cy="139.33" r="1.8" fill="#000"/>
<text x="550.26" y="117.13" class="lab">9:54 am</text>
<text x="550.26" y="125.93" class="lab">2.0 ft</text>
<text x="550.26" y="135.93" class="lab">0.62 m</text>
<circle cx="571.70" cy="333.55" r="1.8" fill="#000"/>
<text x="571.70" y="343.25" class="lab">0.18 m</text>
<text x="571.70" y="353.45" class="lab">0.6 ft</text>
<text x="571.70" y="362.85" class="lab">4:37 pm</text>
<circle cx="587.88" cy="254.10" r="1.8" fill="#000"/>
<text x="587.88" y="233.10" class="lab">9:41 pm</text>
<text x="587.88" y="240.30" class="lab">1.2 ft</text>
<text x="587.88" y="250.40" class="lab">0.36 m</text>
<circle cx="606.34" cy="368.86" r="1.8" fill="#000"/>
<text x="606.34" y="378.56" class="lab">0.10 m</text>
<text x="606.34" y="388.76" class="lab">0.3 ft</text>
<text x="606.34" y="398.16" class="lab">3:28 am</text>
<circle cx="628.84" cy="143.75" r="1.8" fill="#000"/>
<text x="628.84" y="121.55" class="lab">10:31 am</text>
<text x="628.84" y="130.35" class="lab">2.0 ft</text>
<text x="628.84" y="140.35" class="lab">0.61 m</text>
<circle cx="650.44" cy="333.55" r="1.8" fill="#000"/>
<text x="650.44" y="343.25" class="lab">0.18 m</text>
<text x="650.44" y="353.45" class="lab">0.6 ft</text>
<text x="650.44" y="362.85" class="lab">5:17 pm</text>
<circle cx="666.93" cy="254.10" r="1.8" fill="#000"/>
<text x="666.93" y="233.10" class="lab">10:27 pm</text>
<text x="666.93" y="240.30" class="lab">1.2 ft</text>
<text x="666.93" y="250.40" class="lab">0.36 m</text>
<circle cx="685.13" cy="360.03" r="1.8" fill="#000"/>
<text x="685.13" y="369.73" class="lab">0.12 m</text>
<text x="685.13" y="379.93" class="lab">0.4 ft</text>
<text x="685.13" y="389.33" class="lab">4:09 am</text>
<polygon points="391.76,145 401.16,145 396.46,152.4" fill="#e0e040" stroke="#8a8a20" stroke-width="0.8"/>
<text x="395.4" y="13.1" class="title">Playa del Macao: falling&#160; ordinary tide at 0.6m (1.9ft)</text>
<text x="396.5" y="27.9" class="sub">Image captured One hour and 9 minutes after high water. Times are AST (UTC −4.0hrs)</text>
<text x="45.6" y="478.9" class="row" text-anchor="end">Sunrise</text>
<text x="746.8" y="478.9" class="row">Sunrise</text>
<text x="45.6" y="492.6" class="row" text-anchor="end">Sunset</text>
<text x="746.8" y="492.6" class="row">Sunset</text>
<text x="45.6" y="506.2" class="row" text-anchor="end">Moonrise</text>
<text x="746.8" y="506.2" class="row">Moonrise</text>
<text x="45.6" y="519.6" class="row" text-anchor="end">Moonset</text>
<text x="746.8" y="519.6" class="row">Moonset</text>
<polygon points="80.60,467.60 82.60,471.75 87.16,472.37 83.83,475.55 84.66,480.08 80.60,477.90 76.54,480.08 77.37,475.55 74.04,472.37 78.60,471.75" fill="#b3b43e" stroke="#80601a" stroke-width="0.8"/><circle cx="80.60" cy="474.50" r="4.5" fill="#b3b43e"/>
<text x="87.70" y="478.6" class="ev">6:46am</text>
<polygon points="116.19,481.50 118.19,485.65 122.75,486.27 119.43,489.45 120.25,493.98 116.19,491.80 112.14,493.98 112.96,489.45 109.63,486.27 114.19,485.65" fill="#e0862e" stroke="#6a5a18" stroke-width="0.8"/><circle cx="116.19" cy="488.40" r="4.5" fill="#e0862e"/>
<text x="123.29" y="492.4" class="ev">5:55pm</text>
<polygon points="157.26,467.60 159.26,471.75 163.83,472.37 160.50,475.55 161.32,480.08 157.26,477.90 153.21,480.08 154.03,475.55 150.70,472.37 155.26,471.75" fill="#b3b43e" stroke="#80601a" stroke-width="0.8"/><circle cx="157.26" cy="474.50" r="4.5" fill="#b3b43e"/>
<text x="164.36" y="478.6" class="ev">6:47am</text>
<polygon points="192.80,481.50 194.80,485.65 199.36,486.27 196.04,489.45 196.86,493.98 192.80,491.80 188.75,493.98 189.57,489.45 186.24,486.27 190.80,485.65" fill="#e0862e" stroke="#6a5a18" stroke-width="0.8"/><circle cx="192.80" cy="488.40" r="4.5" fill="#e0862e"/>
<text x="199.90" y="492.4" class="ev">5:55pm</text>
<polygon points="233.93,467.60 235.92,471.75 240.49,472.37 237.16,475.55 237.98,480.08 233.93,477.90 229.87,480.08 230.69,475.55 227.36,472.37 231.93,471.75" fill="#b3b43e" stroke="#80601a" stroke-width="0.8"/><circle cx="233.93" cy="474.50" r="4.5" fill="#b3b43e"/>
<text x="241.03" y="478.6" class="ev">6:48am</text>
<polygon points="269.41,481.50 271.41,485.65 275.97,486.27 272.65,489.45 273.47,493.98 269.41,491.80 265.36,493.98 266.18,489.45 262.85,486.27 267.41,485.65" fill="#e0862e" stroke="#6a5a18" stroke-width="0.8"/><circle cx="269.41" cy="488.40" r="4.5" fill="#e0862e"/>
<text x="276.51" y="492.4" class="ev">5:55pm</text>
<polygon points="310.54,467.60 312.53,471.75 317.10,472.37 313.77,475.55 314.59,480.08 310.54,477.90 306.48,480.08 307.30,475.55 303.97,472.37 308.54,471.75" fill="#b3b43e" stroke="#80601a" stroke-width="0.8"/><circle cx="310.54" cy="474.50" r="4.5" fill="#b3b43e"/>
<text x="317.64" y="478.6" class="ev">6:48am</text>
<polygon points="346.02,481.50 348.02,485.65 352.58,486.27 349.26,489.45 350.08,493.98 346.02,491.80 341.97,493.98 342.79,489.45 339.46,486.27 344.02,485.65" fill="#e0862e" stroke="#6a5a18" stroke-width="0.8"/><circle cx="346.02" cy="488.40" r="4.5" fill="#e0862e"/>
<text x="353.12" y="492.4" class="ev">5:55pm</text>
<polygon points="387.20,467.60 389.20,471.75 393.76,472.37 390.43,475.55 391.26,480.08 387.20,477.90 383.14,480.08 383.97,475.55 380.64,472.37 385.20,471.75" fill="#b3b43e" stroke="#80601a" stroke-width="0.8"/><circle cx="387.20" cy="474.50" r="4.5" fill="#b3b43e"/>
<text x="394.30" y="478.6" class="ev">6:49am</text>
<polygon points="422.63,481.50 424.63,485.65 429.19,486.27 425.87,489.45 426.69,493.98 422.63,491.80 418.58,493.98 419.40,489.45 416.07,486.27 420.63,485.65" fill="#e0862e" stroke="#6a5a18" stroke-width="0.8"/><circle cx="422.63" cy="488.40" r="4.5" fill="#e0862e"/>
<text x="429.73" y="492.4" class="ev">5:55pm</text>
<polygon points="463.81,467.60 465.81,471.75 470.37,472.37 467.04,475.55 467.87,480.08 463.81,477.90 459.75,480.08 460.58,475.55 457.25,472.37 461.81,471.75" fill="#b3b43e" stroke="#80601a" stroke-width="0.8"/><circle cx="463.81" cy="474.50" r="4.5" fill="#b3b43e"/>
<text x="470.91" y="478.6" class="ev">6:49am</text>
<polygon points="499.24,481.50 501.24,485.65 505.80,486.27 502.48,489.45 503.30,493.98 499.24,491.80 495.19,493.98 496.01,489.45 492.68,486.27 497.24,485.65" fill="#e0862e" stroke="#6a5a18" stroke-width="0.8"/><circle cx="499.24" cy="488.40" r="4.5" fill="#e0862e"/>
<text x="506.34" y="492.4" class="ev">5:55pm</text>
<polygon points="540.47,467.60 542.47,471.75 547.03,472.37 543.71,475.55 544.53,480.08 540.47,477.90 536.42,480.08 537.24,475.55 533.91,472.37 538.47,471.75" fill="#b3b43e" stroke="#80601a" stroke-width="0.8"/><circle cx="540.47" cy="474.50" r="4.5" fill="#b3b43e"/>
<text x="547.57" y="478.6" class="ev">6:50am</text>
<polygon points="575.85,481.50 577.85,485.65 582.41,486.27 579.09,489.45 579.91,493.98 575.85,491.80 571.80,493.98 572.62,489.45 569.29,486.27 573.85,485.65" fill="#e0862e" stroke="#6a5a18" stroke-width="0.8"/><circle cx="575.85" cy="488.40" r="4.5" fill="#e0862e"/>
<text x="582.95" y="492.4" class="ev">5:55pm</text>
<polygon points="617.14,467.60 619.13,471.75 623.70,472.37 620.37,475.55 621.19,480.08 617.14,477.90 613.08,480.08 613.90,475.55 610.57,472.37 615.14,471.75" fill="#b3b43e" stroke="#80601a" stroke-width="0.8"/><circle cx="617.14" cy="474.50" r="4.5" fill="#b3b43e"/>
<text x="624.24" y="478.6" class="ev">6:51am</text>
<polygon points="652.46,481.50 654.46,485.65 659.02,486.27 655.70,489.45 656.52,493.98 652.46,491.80 648.41,493.98 649.23,489.45 645.90,486.27 650.46,485.65" fill="#e0862e" stroke="#6a5a18" stroke-width="0.8"/><circle cx="652.46" cy="488.40" r="4.5" fill="#e0862e"/>
<text x="659.56" y="492.4" class="ev">5:55pm</text>
<circle cx="107.73" cy="501.8" r="5.1" fill="#ffffcc" stroke="#999" stroke-width="0.9"/>
<text x="114.23" y="506.2" class="ev">3:16pm</text>
<circle cx="186.47" cy="501.8" r="5.1" fill="#ffffcc" stroke="#999" stroke-width="0.9"/>
<text x="192.97" y="506.2" class="ev">3:56pm</text>
<circle cx="265.26" cy="501.8" r="5.1" fill="#ffffcc" stroke="#999" stroke-width="0.9"/>
<text x="271.76" y="506.2" class="ev">4:37pm</text>
<circle cx="344.21" cy="501.8" r="5.1" fill="#ffffcc" stroke="#999" stroke-width="0.9"/>
<text x="350.71" y="506.2" class="ev">5:21pm</text>
<circle cx="423.27" cy="501.8" r="5.1" fill="#ffffcc" stroke="#999" stroke-width="0.9"/>
<text x="429.77" y="506.2" class="ev">6:07pm</text>
<circle cx="502.43" cy="501.8" r="5.1" fill="#ffffcc" stroke="#999" stroke-width="0.9"/>
<text x="508.93" y="506.2" class="ev">6:55pm</text>
<circle cx="581.70" cy="501.8" r="5.1" fill="#ffffcc" stroke="#999" stroke-width="0.9"/>
<text x="588.20" y="506.2" class="ev">7:45pm</text>
<circle cx="660.97" cy="501.8" r="5.1" fill="#ffffcc" stroke="#999" stroke-width="0.9"/>
<text x="667.47" y="506.2" class="ev">8:35pm</text>
<circle cx="149.07" cy="515.3" r="5.1" fill="#c4c4b4" stroke="#888" stroke-width="0.9"/>
<text x="155.57" y="519.5" class="ev">4:13am</text>
<circle cx="228.39" cy="515.3" r="5.1" fill="#c4c4b4" stroke="#888" stroke-width="0.9"/>
<text x="234.89" y="519.5" class="ev">5:04am</text>
<circle cx="307.66" cy="515.3" r="5.1" fill="#c4c4b4" stroke="#888" stroke-width="0.9"/>
<text x="314.16" y="519.5" class="ev">5:54am</text>
<circle cx="386.93" cy="515.3" r="5.1" fill="#c4c4b4" stroke="#888" stroke-width="0.9"/>
<text x="393.43" y="519.5" class="ev">6:44am</text>
<circle cx="466.15" cy="515.3" r="5.1" fill="#c4c4b4" stroke="#888" stroke-width="0.9"/>
<text x="472.65" y="519.5" class="ev">7:33am</text>
<circle cx="545.31" cy="515.3" r="5.1" fill="#c4c4b4" stroke="#888" stroke-width="0.9"/>
<text x="551.81" y="519.5" class="ev">8:21am</text>
<circle cx="624.37" cy="515.3" r="5.1" fill="#c4c4b4" stroke="#888" stroke-width="0.9"/>
<text x="630.87" y="519.5" class="ev">9:07am</text>
<text x="396.7" y="531.8" class="fm">Full Moon | 10:45am</text>
</svg>
</body></html>
